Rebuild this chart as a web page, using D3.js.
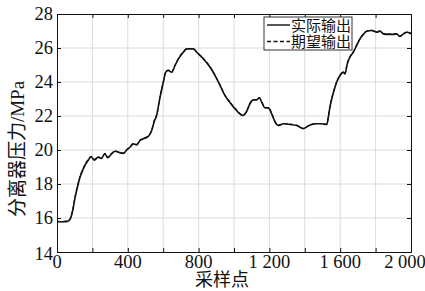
<!DOCTYPE html>
<html>
<head>
<meta charset="utf-8">
<script src="https://cdn.jsdelivr.net/npm/d3@7"></script>
<style>
  body { margin: 0; background: #fff; }
  text { font-family: "Liberation Serif", "Noto Sans CJK SC", serif; fill: #111; }
  .cjk { font-family: "Liberation Serif", "Noto Sans CJK SC", serif; }
</style>
</head>
<body>
<div class="chart"></div>
<script>
var svgWidth = 425;
var svgHeight = 291;

var margin = { top: 14, right: 14, bottom: 39, left: 57 };
var width = svgWidth - margin.left - margin.right;
var height = svgHeight - margin.top - margin.bottom;

// sample index
var samples = [0, 30, 60, 75, 90, 102, 115, 130, 145, 158, 177, 192, 211, 233, 250, 271, 286, 309, 328, 347,
  375, 394, 412, 431, 450, 469, 488, 516, 535, 550, 563, 582, 601, 614, 629, 648, 667, 686, 714, 733,
  770, 789, 827, 865, 893, 921, 949, 977, 1006, 1025, 1049, 1072, 1090, 1109, 1128, 1143, 1157, 1175, 1194, 1213,
  1232, 1251, 1279, 1317, 1354, 1373, 1392, 1415, 1439, 1467, 1496, 1524, 1533, 1542, 1552, 1565, 1580, 1599, 1618, 1627,
  1640, 1655, 1674, 1693, 1712, 1731, 1750, 1778, 1807, 1825, 1844, 1872, 1900, 1919, 1938, 1957, 1980, 2000];

// 实际输出
var actual = [15.78, 15.78, 15.8, 15.95, 16.5, 17.2, 17.8, 18.4, 18.8, 19.1, 19.4, 19.6, 19.4, 19.58, 19.5, 19.78, 19.54, 19.78, 19.93, 19.87,
  19.8, 20.0, 20.16, 20.36, 20.3, 20.56, 20.66, 20.8, 21.15, 21.7, 22.03, 23.1, 23.99, 24.58, 24.68, 24.58, 24.97, 25.36, 25.75, 25.95,
  25.95, 25.75, 25.36, 24.87, 24.38, 23.8, 23.2, 22.8, 22.42, 22.2, 22.03, 22.28, 22.72, 22.95, 22.95, 23.07, 22.8, 22.48, 22.48, 22.13,
  21.64, 21.44, 21.54, 21.5, 21.44, 21.34, 21.25, 21.38, 21.5, 21.54, 21.54, 21.5, 21.93, 22.52, 23.0, 23.5, 23.99, 24.38, 24.58, 24.48,
  25.07, 25.46, 25.75, 26.15, 26.54, 26.8, 26.99, 27.03, 26.93, 26.99, 26.83, 26.8, 26.8, 26.83, 26.68, 26.83, 26.93, 26.83];

// 期望输出
var desired = [15.8, 15.79, 15.82, 15.97, 16.55, 17.25, 17.85, 18.45, 18.85, 19.15, 19.45, 19.62, 19.45, 19.6, 19.52, 19.8, 19.58, 19.8, 19.95, 19.88,
  19.82, 20.02, 20.18, 20.38, 20.33, 20.58, 20.68, 20.83, 21.18, 21.75, 22.08, 23.15, 24.03, 24.6, 24.7, 24.6, 25.0, 25.38, 25.78, 25.97,
  25.97, 25.77, 25.38, 24.9, 24.4, 23.83, 23.23, 22.83, 22.45, 22.23, 22.05, 22.3, 22.75, 22.97, 22.97, 23.08, 22.83, 22.5, 22.5, 22.16,
  21.67, 21.46, 21.56, 21.52, 21.46, 21.36, 21.27, 21.4, 21.52, 21.56, 21.56, 21.52, 21.97, 22.56, 23.04, 23.54, 24.02, 24.4, 24.6, 24.5,
  25.1, 25.48, 25.78, 26.18, 26.56, 26.82, 27.0, 27.04, 26.95, 27.0, 26.85, 26.82, 26.82, 26.85, 26.7, 26.85, 26.95, 26.85];

var xTicks = [0, 400, 800, 1200, 1600, 2000];
var xTickLabels = ["0", "400", "800", "1 200", "1 600", "2 000"];
var xGrid = [200, 400, 600, 800, 1000, 1200, 1400, 1600, 1800];
var yTicks = [14, 16, 18, 20, 22, 24, 26, 28];
var seriesNames = ["实际输出", "期望输出"];

var svg = d3.select(".chart")
  .append("svg")
  .attr("width", svgWidth)
  .attr("height", svgHeight);

var chartGroup = svg.append("g")
  .attr("transform", `translate(${margin.left}, ${margin.top})`);

var xScale = d3.scaleLinear().domain([0, 2000]).range([0, width]);
var yScale = d3.scaleLinear().domain([14, 28]).range([height, 0]);

// grid
chartGroup.append("g")
  .selectAll("line")
  .data(xGrid)
  .enter()
  .append("line")
  .attr("x1", d => xScale(d)).attr("x2", d => xScale(d))
  .attr("y1", 0).attr("y2", height)
  .attr("stroke", "#dcdcdc").attr("stroke-width", 1);

chartGroup.append("g")
  .selectAll("line")
  .data(yTicks.slice(1, -1))
  .enter()
  .append("line")
  .attr("y1", d => yScale(d)).attr("y2", d => yScale(d))
  .attr("x1", 0).attr("x2", width)
  .attr("stroke", "#dcdcdc").attr("stroke-width", 1);

// axes, ticks inside on all four sides
var bottomAxis = d3.axisBottom(xScale).tickValues(xGrid.concat([0, 2000])).tickSize(-4).tickFormat("");
var topAxis = d3.axisTop(xScale).tickValues(xGrid).tickSize(-4).tickFormat("");
var leftAxis = d3.axisLeft(yScale).tickValues(yTicks).tickSize(-4).tickFormat("");
var rightAxis = d3.axisRight(yScale).tickValues(yTicks).tickSize(-4).tickFormat("");

chartGroup.append("g").attr("transform", `translate(0, ${height})`).call(bottomAxis);
chartGroup.append("g").call(topAxis);
chartGroup.append("g").call(leftAxis);
chartGroup.append("g").attr("transform", `translate(${width}, 0)`).call(rightAxis);
chartGroup.selectAll(".domain").attr("stroke", "#111");
chartGroup.selectAll(".tick line").attr("stroke", "#111");

// tick labels
chartGroup.append("g")
  .selectAll("text")
  .data(xTicks)
  .enter()
  .append("text")
  .attr("x", (d, i) => xScale(d) + (i == 5 ? -6 : 0))
  .attr("y", height + 16)
  .attr("text-anchor", "middle")
  .attr("font-size", "18.5px")
  .text((d, i) => xTickLabels[i]);

chartGroup.append("g")
  .selectAll("text")
  .data(yTicks)
  .enter()
  .append("text")
  .attr("x", -4)
  .attr("y", d => yScale(d) + (d == 14 ? 8 : 6))
  .attr("text-anchor", "end")
  .attr("font-size", "18.5px")
  .text(d => d);

// lines
var line = d3.line()
  .x((d, i) => xScale(samples[i]))
  .y(d => yScale(d))
  .curve(d3.curveMonotoneX);

chartGroup.append("path")
  .datum(actual)
  .attr("d", line)
  .attr("fill", "none")
  .attr("stroke", "#111")
  .attr("stroke-width", 1.6);

chartGroup.append("path")
  .datum(desired)
  .attr("d", line)
  .attr("fill", "none")
  .attr("stroke", "#111")
  .attr("stroke-width", 1.2)
  .attr("stroke-dasharray", "4,2");

// legend
var legend = chartGroup.append("g").attr("transform", "translate(207, 3)");
legend.append("rect")
  .attr("width", 88).attr("height", 33)
  .attr("fill", "#fff").attr("stroke", "#333").attr("stroke-width", 1);
seriesNames.forEach(function(name, i) {
  legend.append("line")
    .attr("x1", 3).attr("x2", 26)
    .attr("y1", 8 + i * 16.5).attr("y2", 8 + i * 16.5)
    .attr("stroke", "#111").attr("stroke-width", 1.4)
    .attr("stroke-dasharray", i == 1 ? "4,2.5" : null);
  legend.append("text")
    .attr("class", "cjk")
    .attr("x", 27).attr("y", 13.5 + i * 16.5)
    .attr("font-size", "15px")
    .text(name);
});

// axis titles
svg.append("text")
  .attr("class", "cjk")
  .attr("transform", "translate(24, 149) rotate(-90)")
  .attr("text-anchor", "middle")
  .attr("font-size", "19px")
  .text("分离器压力/MPa");

svg.append("text")
  .attr("class", "cjk")
  .attr("x", 222)
  .attr("y", 286)
  .attr("text-anchor", "middle")
  .attr("font-size", "18px")
  .text("采样点");
</script>
</body>
</html>
